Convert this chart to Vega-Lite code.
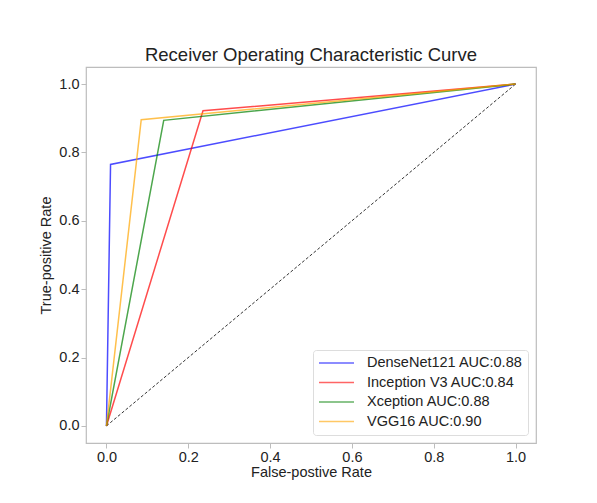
{
  "$schema": "https://vega.github.io/schema/vega-lite/v6.json",
  "autosize": {"type": "none"},
  "width": 450,
  "height": 376,
  "padding": {"left": 86, "top": 67, "right": 61, "bottom": 60},
  "background": "white",
  "config": {
    "font": "Liberation Sans",
    "view": {"stroke": "#bdbdbd", "strokeWidth": 1.2},
    "axis": {"grid": false, "domain": false, "tickColor": "#bdbdbd", "tickSize": 5, "labelFontSize": 14.5, "labelColor": "#222", "titleFontSize": 14.5, "titleFontWeight": "normal", "titleColor": "#222", "labelFont": "Liberation Sans", "titleFont": "Liberation Sans"}
  },
  "title": {"text": "Receiver Operating Characteristic Curve", "fontSize": 18.5, "fontWeight": "normal", "color": "#222", "offset": 3, "font": "Liberation Sans"},
  "datasets": {
    "roc": [
      {"model": "DenseNet121 AUC:0.88", "fpr": 0.0, "tpr": 0.0},
      {"model": "DenseNet121 AUC:0.88", "fpr": 0.01, "tpr": 0.765},
      {"model": "DenseNet121 AUC:0.88", "fpr": 1.0, "tpr": 1.0},
      {"model": "Inception V3 AUC:0.84", "fpr": 0.0, "tpr": 0.0},
      {"model": "Inception V3 AUC:0.84", "fpr": 0.236, "tpr": 0.922},
      {"model": "Inception V3 AUC:0.84", "fpr": 1.0, "tpr": 1.0},
      {"model": "Xception AUC:0.88", "fpr": 0.0, "tpr": 0.0},
      {"model": "Xception AUC:0.88", "fpr": 0.14, "tpr": 0.894},
      {"model": "Xception AUC:0.88", "fpr": 1.0, "tpr": 1.0},
      {"model": "VGG16 AUC:0.90", "fpr": 0.0, "tpr": 0.0},
      {"model": "VGG16 AUC:0.90", "fpr": 0.085, "tpr": 0.896},
      {"model": "VGG16 AUC:0.90", "fpr": 1.0, "tpr": 1.0}
    ],
    "diag": [
      {"fpr": 0.0, "tpr": 0.0},
      {"fpr": 1.0, "tpr": 1.0}
    ]
  },
  "layer": [
    {
      "data": {"name": "diag"},
      "mark": {"type": "line", "color": "#333", "strokeDash": [3, 2], "strokeWidth": 1},
      "encoding": {
        "x": {"field": "fpr", "type": "quantitative"},
        "y": {"field": "tpr", "type": "quantitative"}
      }
    },
    {
      "data": {"name": "roc"},
      "mark": {"type": "line", "strokeWidth": 1.5, "opacity": 0.7},
      "encoding": {
        "x": {"field": "fpr", "type": "quantitative", "scale": {"domain": [-0.05, 1.05], "nice": false, "zero": false}, "axis": {"values": [0, 0.2, 0.4, 0.6, 0.8, 1.0], "format": ".1f", "title": "False-postive Rate", "titlePadding": 2}},
        "y": {"field": "tpr", "type": "quantitative", "scale": {"domain": [-0.05, 1.05], "nice": false, "zero": false}, "axis": {"values": [0, 0.2, 0.4, 0.6, 0.8, 1.0], "format": ".1f", "title": "True-positive Rate", "titlePadding": 5}},
        "color": {
          "field": "model", "type": "nominal",
          "scale": {"domain": ["DenseNet121 AUC:0.88", "Inception V3 AUC:0.84", "Xception AUC:0.88", "VGG16 AUC:0.90"], "range": ["#0000ff", "#ff0000", "#008000", "#ffa500"]},
          "legend": {"title": null, "orient": "bottom-right", "offset": 8, "labelFontSize": 14.5, "labelColor": "#222", "symbolType": "M-1,0H1", "symbolSize": 1225, "symbolStrokeWidth": 1.3, "symbolOpacity": 0.6, "clipHeight": 16, "rowPadding": 3.5, "labelOffset": 12, "padding": 5, "strokeColor": "#dddddd", "cornerRadius": 3, "fillColor": "white"}
        },
        "detail": {"field": "model"},
        "order": {"field": "fpr", "type": "quantitative"}
      }
    }
  ]
}
